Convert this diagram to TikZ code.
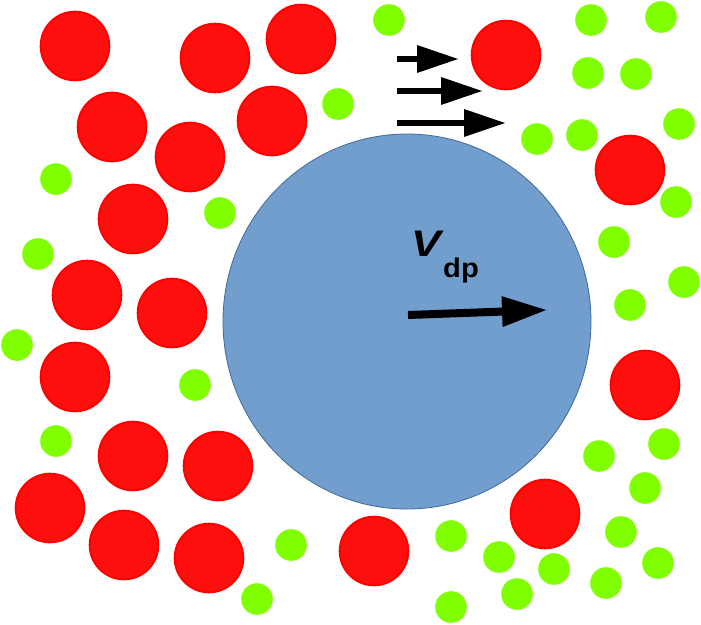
\documentclass[tikz,border=0pt]{standalone}
\usepackage{fontspec}
\setmainfont{Liberation Sans}
\usetikzlibrary{arrows.meta}
\definecolor{redc}{RGB}{255,14,14}
\definecolor{rededge}{RGB}{255,0,0}
\definecolor{greenc}{RGB}{128,255,0}
\definecolor{bluec}{RGB}{114,158,206}
\definecolor{blueedge}{RGB}{65,105,150}
\begin{document}
\begin{tikzpicture}[x=1pt,y=-1pt,
  redball/.style={fill=redc,draw=rededge,line width=2pt},
  greenball/.style={fill=greenc,draw=none},
  flowarrow/.style={line width=6.7pt,-{Triangle[length=41pt,width=28pt,line width=0pt]}},
  velarrow/.style={line width=8pt,-{Triangle[length=44pt,width=31pt,line width=0pt]}},
  biglabel/.style={inner sep=0pt,anchor=base west,font=\fontsize{37}{37}\selectfont\bfseries\itshape},
  sublabel/.style={inner sep=0pt,anchor=base west,font=\fontsize{27}{27}\selectfont\bfseries}
]
\fill[white] (0,0) rectangle (701,624);
\useasboundingbox (0,0) rectangle (701,624);
% big particle
\draw[fill=bluec,draw=blueedge,line width=0.8pt] (407,321.5) ellipse [x radius=184, y radius=187.5];
% red particles
\foreach \x/\y in {75/46,215/58,301/39,506/55,112/127,272/121,190/157,630/170,133/219,87/295,172/313,75/377,645/385,133/456,218/466,50/508,545/514,124/545,209/558,374/551}
  \draw[redball] (\x,\y) circle [radius=34.3];
% green particles
\foreach \x/\y in {389/20,591/20,661/17,588/73,636/74,338/104,537/139,582/135,679/124,56/179,220/213,676/202,38/254,614/242,684/282,630/305,17/345,195/385,56/441,664/444,599/456,645/488,291/545,451/536,621/532,499/557,554/569,658/563,606/583,517/594,257/599,451/607}
  \fill[greenball] (\x,\y) circle [radius=15.8];
% flow arrows
\coordinate (a1s) at (397,59);  \coordinate (a1e) at (458,59);
\coordinate (a2s) at (397,91);  \coordinate (a2e) at (482,91);
\coordinate (a3s) at (397,123); \coordinate (a3e) at (505,123);
\draw[flowarrow] (a1s) -- (a1e);
\draw[flowarrow] (a2s) -- (a2e);
\draw[flowarrow] (a3s) -- (a3e);
% velocity
\coordinate (vs) at (408,315); \coordinate (ve) at (546,310);
\draw[velarrow] (vs) -- (ve);
\node[biglabel] (vlab) at (411,256) {\scalebox{1.2}[1]{V}};
\node[sublabel] (dplab) at (443,277) {\scalebox{1.08}[1]{dp}};
\end{tikzpicture}
\end{document}
